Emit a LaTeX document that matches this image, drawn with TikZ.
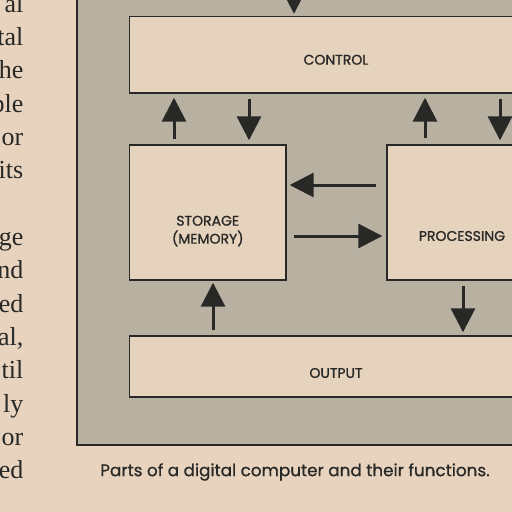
\documentclass[tikz,border=0pt]{standalone}
\usepackage{fontspec}
\setmainfont{Liberation Serif}
\newfontfamily\futura{Poppins}[FakeBold=1.2]
\newfontfamily\futurac{Poppins}[FakeBold=0.8]
\usetikzlibrary{arrows.meta}
\definecolor{page}{RGB}{232,212,190}
\definecolor{panel}{RGB}{184,176,161}
\definecolor{boxfill}{RGB}{230,211,189}
\definecolor{ink}{RGB}{40,40,38}
\begin{document}
\begin{tikzpicture}[x=1pt,y=-1pt,
  box/.style={draw=ink, line width=1.4pt, fill=boxfill, inner sep=0pt},
  lab/.style={text=ink, font=\futura\fontsize{14}{18}\selectfont, align=center, inner sep=0pt},
  arr/.style={draw=ink, line width=3pt, -{Triangle[width=24pt,length=24pt]}},
  bodytext/.style={anchor=base east, inner sep=0pt, text=ink, font=\fontsize{26}{30}\selectfont}]
\useasboundingbox (0,0) rectangle (512,512);
\fill[page] (0,0) rectangle (512,512);
\draw[ink, line width=1.3pt, fill=panel] (77,-20) rectangle (560,445);
% boxes
\node[box, minimum width=413pt, minimum height=76.5pt,
  label={[lab, yshift=-5pt]center:CONTROL}] (control) at (336,54.75) {};
\node[box, minimum width=156.5pt, minimum height=135pt,
  label={[lab, yshift=-18.5pt]center:STORAGE\\(MEMORY)}] (storage) at (207.75,212.5) {};
\node[box, minimum width=144pt, minimum height=135pt,
  label={[lab, yshift=-23.5pt, xshift=3pt]center:PROCESSING}] (processing) at (459,212.5) {};
\node[box, minimum width=413pt, minimum height=61pt,
  label={[lab, yshift=-6.5pt]center:OUTPUT}] (output) at (336,366.5) {};
\coordinate (input) at (294,-40);
% arrows
\draw[arr, shorten >=2pt] (input) -- (294,0 |- control.north);
\draw[arr, shorten <=5pt, shorten >=4pt] (174,0 |- storage.north) -- (174,0 |- control.south);
\draw[arr, shorten <=5pt, shorten >=4pt] (249,0 |- control.south) -- (249,0 |- storage.north);
\draw[arr, shorten <=6pt, shorten >=4pt] (425,0 |- processing.north) -- (425,0 |- control.south);
\draw[arr, shorten <=5pt, shorten >=4pt] (500,0 |- control.south) -- (500,0 |- processing.north);
\draw[arr, shorten <=10pt, shorten >=3pt] (0,185 -| processing.west) -- (0,185 -| storage.east);
\draw[arr, shorten <=7pt, shorten >=4pt] (0,236 -| storage.east) -- (0,236 -| processing.west);
\draw[arr, shorten <=5pt, shorten >=2pt] (213,0 |- output.north) -- (213,0 |- storage.south);
\draw[arr, shorten <=5pt, shorten >=3pt] (463,0 |- processing.south) -- (463,0 |- output.north);
% caption
\node[text=ink, font=\futurac\fontsize{16.8}{20}\selectfont, inner sep=0pt] (caption) at (295,472) {Parts of a digital computer and their functions.};
% body text on the left
\node[bodytext] (l1) at (23.5,12) {al};
\node[bodytext] (l2) at (23.5,45) {tal};
\node[bodytext] (l3) at (23.5,78) {he};
\node[bodytext] (l4) at (23.5,112) {ble};
\node[bodytext] (l5) at (23.5,145) {or};
\node[bodytext] (l6) at (23.5,178) {its};
\node[bodytext] (l7) at (23.5,245) {ge};
\node[bodytext] (l8) at (23.5,278) {nd};
\node[bodytext] (l9) at (23.5,312) {ed};
\node[bodytext] (l10) at (23.5,345) {al,};
\node[bodytext] (l11) at (23.5,378) {til};
\node[bodytext] (l12) at (23.5,412) {ly};
\node[bodytext] (l13) at (23.5,445) {or};
\node[bodytext] (l14) at (23.5,478) {ed};
\end{tikzpicture}
\end{document}
